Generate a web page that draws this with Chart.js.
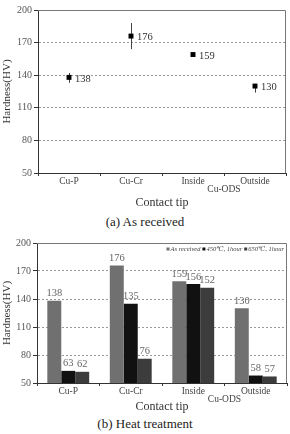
<!DOCTYPE html>
<html>
<head>
<meta charset="utf-8">
<script src="https://cdn.jsdelivr.net/npm/chart.js@4/dist/chart.umd.min.js"></script>
<style>
  html, body { margin: 0; padding: 0; background: #fff; }
  body { width: 290px; height: 434px; position: relative; overflow: hidden; font-family: "Liberation Serif", "DejaVu Serif", serif; }
  canvas { position: absolute; left: 0; }
  #topChart { top: 0; }
  #bottomChart { top: 230px; }
  .caption { position: absolute; left: 0; width: 290px; text-align: center; font-size: 13px; color: #222; line-height: 16px; }
</style>
</head>
<body>
<canvas id="topChart" width="290" height="214"></canvas>
<div class="caption" style="top:214px">(a) As received</div>
<canvas id="bottomChart" width="290" height="184"></canvas>
<div class="caption" style="top:416px">(b) Heat treatment</div>
<script>
// categories and group label
const categories = ['Cu-P', 'Cu-Cr', 'Inside', 'Outside'];
const groupLabel = 'Cu-ODS';

// (a) as received: mean hardness and error range
const asReceived = [138, 176, 159, 130];
const errLow = [133, 164, 158, 124];
const errHigh = [142, 188, 160, 132];

// (b) heat treatment series
const seriesNames = ['As received', '450\u2103, 1hour', '650\u2103, 1hour'];
const heatAsReceived = [138, 176, 159, 130];
const heat450 = [63, 135, 156, 58];
const heat650 = [62, 76, 152, 57];

const yTicks = { min: 50, max: 200, step: 30 };

const FONT = '"Liberation Serif", "DejaVu Serif", serif';

// dotted grid only on inner ticks, axis ticks kept solid
function yScale(width) {
  return {
    min: yTicks.min,
    max: yTicks.max,
    ticks: { stepSize: yTicks.step, color: '#555', font: { family: FONT, size: 10 }, padding: 2 },
    grid: {
      color: ctx => (ctx.tick && (ctx.tick.value === yTicks.min || ctx.tick.value === yTicks.max)) ? 'rgba(0,0,0,0)' : '#999',
      tickColor: '#333',
      tickLength: 4,
      tickBorderDash: [1, 0]
    },
    border: { color: '#333', width: 1, dash: [2, 2] },
    title: { display: true, text: 'Hardness(HV)', color: '#333', font: { family: FONT, size: 11 }, padding: { top: 1, bottom: 0 } },
    afterFit: s => { s.width = width; }
  };
}

function xScale(height, titlePadBottom) {
  return {
    type: 'category',
    offset: true,
    grid: { offset: true, drawOnChartArea: false, color: '#333', tickColor: '#333', tickLength: 3 },
    border: { color: '#333', width: 1 },
    ticks: { color: '#444', font: { family: FONT, size: 9.5 }, padding: 0, maxRotation: 0, autoSkip: false },
    title: { display: true, text: 'Contact tip', color: '#333', font: { family: FONT, size: 12 }, padding: { top: 0, bottom: titlePadBottom } },
    afterFit: s => { s.height = height; }
  };
}

// grey frame on top and right, plus the Cu-ODS group label
const framePlugin = {
  id: 'frame',
  afterDraw(chart) {
    const { ctx, chartArea: a, scales } = chart;
    ctx.save();
    ctx.strokeStyle = '#777';
    ctx.lineWidth = 1;
    ctx.beginPath();
    ctx.moveTo(a.left, a.top + 0.5);
    ctx.lineTo(a.right - 0.5, a.top + 0.5);
    ctx.lineTo(a.right - 0.5, a.bottom);
    ctx.stroke();
    const x = (scales.x.getPixelForValue(2) + scales.x.getPixelForValue(3)) / 2;
    ctx.fillStyle = '#444';
    ctx.font = '9.5px ' + FONT;
    ctx.textAlign = 'center';
    ctx.textBaseline = 'middle';
    ctx.fillText(groupLabel, x, a.bottom + 16);
    ctx.restore();
  }
};

const errorBarPlugin = {
  id: 'errorBars',
  beforeDatasetsDraw(chart) {
    const { ctx, scales } = chart;
    ctx.save();
    ctx.strokeStyle = '#444';
    ctx.lineWidth = 1;
    categories.forEach((c, i) => {
      const x = Math.round(scales.x.getPixelForValue(i)) + 0.5;
      ctx.beginPath();
      ctx.moveTo(x, scales.y.getPixelForValue(errLow[i]));
      ctx.lineTo(x, scales.y.getPixelForValue(errHigh[i]));
      ctx.stroke();
    });
    ctx.restore();
  }
};

const pointLabelPlugin = {
  id: 'pointLabels',
  afterDatasetsDraw(chart) {
    const { ctx } = chart;
    const meta = chart.getDatasetMeta(0);
    ctx.save();
    ctx.fillStyle = '#333';
    ctx.font = '10.5px ' + FONT;
    ctx.textAlign = 'left';
    ctx.textBaseline = 'middle';
    meta.data.forEach((pt, i) => {
      ctx.fillText(String(asReceived[i]), pt.x + 6, pt.y + 1.5);
    });
    ctx.restore();
  }
};

const barLabelPlugin = {
  id: 'barLabels',
  afterDatasetsDraw(chart) {
    const { ctx } = chart;
    ctx.save();
    ctx.fillStyle = '#666';
    ctx.font = '10.5px ' + FONT;
    ctx.textAlign = 'center';
    ctx.textBaseline = 'bottom';
    chart.data.datasets.forEach((ds, d) => {
      chart.getDatasetMeta(d).data.forEach((bar, i) => {
        ctx.fillText(String(ds.data[i]), bar.x, bar.y - 2);
      });
    });
    ctx.restore();
  }
};

// small legend inside the plot, top right
const insideLegendPlugin = {
  id: 'insideLegend',
  afterDraw(chart) {
    const { ctx, chartArea: a } = chart;
    ctx.save();
    ctx.font = 'italic 6.5px ' + FONT;
    ctx.textBaseline = 'middle';
    ctx.textAlign = 'left';
    const y = a.top + 6;
    let x = a.right - 3;
    const items = chart.data.datasets.slice().reverse();
    items.forEach(ds => {
      const w = ctx.measureText(ds.label).width;
      x -= w;
      ctx.fillStyle = '#444';
      ctx.fillText(ds.label, x, y);
      x -= 4;
      ctx.fillStyle = ds.backgroundColor;
      ctx.fillRect(x, y - 1.5, 3, 3);
      x -= 2;
    });
    ctx.restore();
  }
};

new Chart(document.getElementById('topChart'), {
  type: 'line',
  data: {
    labels: categories,
    datasets: [{
      data: asReceived,
      showLine: false,
      pointStyle: 'rect',
      pointRadius: 3.5,
      pointBackgroundColor: '#000',
      pointBorderColor: '#000',
      pointBorderWidth: 0
    }]
  },
  options: {
    responsive: false,
    animation: false,
    layout: { padding: { top: 10, right: 4, left: 0, bottom: 0 } },
    plugins: { legend: { display: false }, tooltip: { enabled: false } },
    scales: { x: xScale(41, 4), y: yScale(38) }
  },
  plugins: [framePlugin, errorBarPlugin, pointLabelPlugin]
});

new Chart(document.getElementById('bottomChart'), {
  type: 'bar',
  data: {
    labels: categories,
    datasets: [
      { label: seriesNames[0], data: heatAsReceived, backgroundColor: '#707070' },
      { label: seriesNames[1], data: heat450, backgroundColor: '#111111' },
      { label: seriesNames[2], data: heat650, backgroundColor: '#3c3c3c' }
    ]
  },
  options: {
    responsive: false,
    animation: false,
    categoryPercentage: 0.67,
    barPercentage: 1.0,
    layout: { padding: { top: 13, right: 3, left: 0, bottom: 0 } },
    plugins: { legend: { display: false }, tooltip: { enabled: false } },
    scales: { x: xScale(31, 0), y: yScale(37) }
  },
  plugins: [framePlugin, barLabelPlugin, insideLegendPlugin]
});
</script>
</body>
</html>
